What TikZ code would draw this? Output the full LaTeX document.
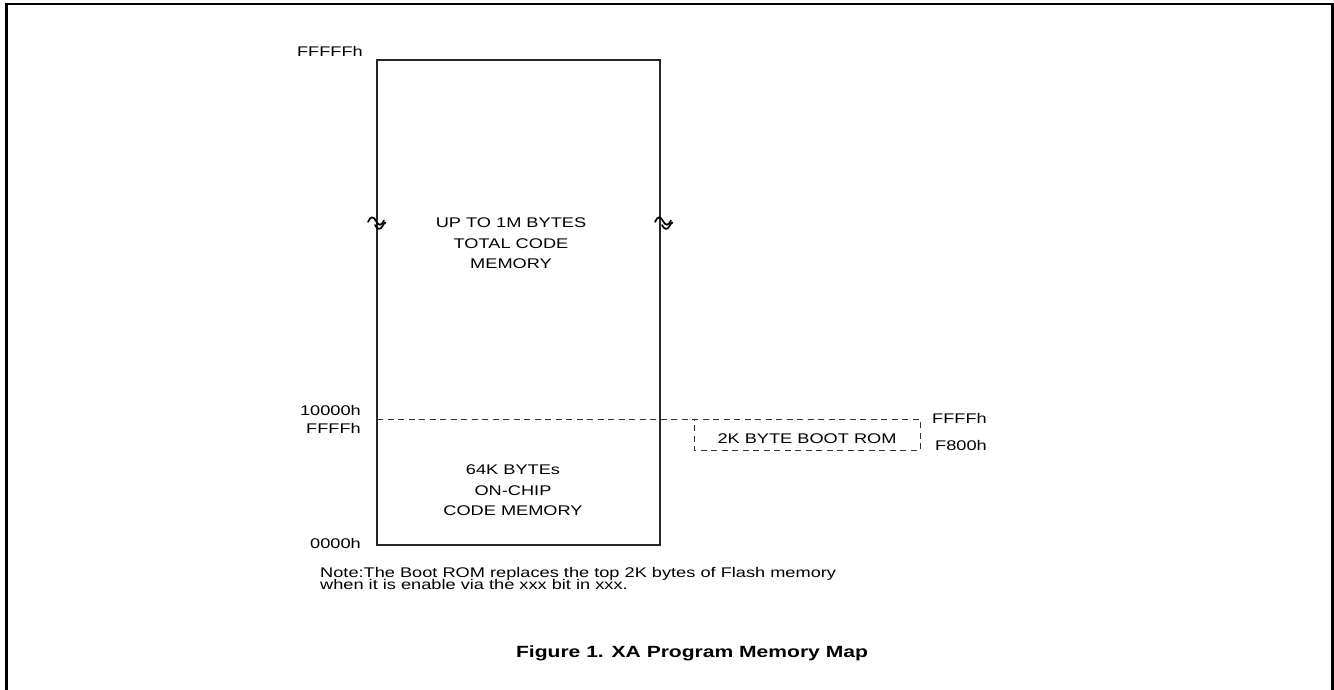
\documentclass[tikz,border=0pt]{standalone}
\usepackage{fontspec}
\setmainfont{Liberation Sans}[FakeStretch=1.3]
\begin{document}
\begin{tikzpicture}[x=1pt,y=-1pt,
  lbl/.style={inner sep=0pt,font=\fontsize{14}{14}\selectfont},
  ttl/.style={inner sep=0pt,font=\fontsize{16.2}{16}\selectfont\bfseries},
  frameline/.style={line width=2.4pt,black},
  memline/.style={line width=1.3pt,black!85},
  dashline/.style={line width=0.9pt,black!80,dash pattern=on 6pt off 4.5pt},
  squig/.style={line width=1.7pt,black,line cap=round}]
\useasboundingbox (0,0) rectangle (1334,690);
% frame
\coordinate (fbl) at (6.3,690);
\coordinate (ftl) at (6.3,4.3);
\coordinate (ftr) at (1332.3,4.3);
\coordinate (fbr) at (1332.3,690);
\draw[frameline] (fbl) -- (ftl) -- (ftr) -- (fbr);
% memory rectangle
\coordinate (mtl) at (377,60);
\coordinate (mbr) at (660,545);
\draw[memline] (mtl) rectangle (mbr);
% dashed boundary and boot ROM box
\coordinate (dl) at (377,419);
\coordinate (btr) at (920,419);
\coordinate (bbr) at (920,450);
\coordinate (bbl) at (694,450);
\coordinate (btl) at (694,419);
\draw[dashline] (dl) -- (btr) -- (bbr) -- (bbl) -- (btl);
% squiggles
\draw[squig] (368,222) .. controls (370.5,216) and (373.5,216) .. (376,221) .. controls (378.5,226) and (381.5,226) .. (384,220.5);
\draw[squig] (375,225) .. controls (377.5,230) and (380.5,230) .. (382.5,226) .. controls (383.5,224) and (384.5,223) .. (385.5,222.5);
\draw[squig] (655,222) .. controls (657.5,216) and (660.5,216) .. (663,221) .. controls (665.5,226) and (668.5,226) .. (671,220.5);
\draw[squig] (662,225) .. controls (664.5,230) and (667.5,230) .. (669.5,226) .. controls (670.5,224) and (671.5,223) .. (672.5,222.5);
% address labels
\node[lbl,anchor=base east] (aFFFFF) at (363,57) {FFFFFh};
\node[lbl,anchor=base east] (a10000) at (361,415) {10000h};
\node[lbl,anchor=base east] (aFFFF) at (361,433) {FFFFh};
\node[lbl,anchor=base east] (a0000) at (361,548) {0000h};
\node[lbl,anchor=base west] (bFFFF) at (932,423) {FFFFh};
\node[lbl,anchor=base west] (bF800) at (935,450) {F800h};
% region texts
\node[lbl,anchor=base] (t1) at (511,227) {UP TO 1M BYTES};
\node[lbl,anchor=base] (t2) at (511,248) {TOTAL CODE};
\node[lbl,anchor=base] (t3) at (511,268) {MEMORY};
\node[lbl,anchor=base] (c1) at (513,474) {64K BYTEs};
\node[lbl,anchor=base] (c2) at (513,495) {ON-CHIP};
\node[lbl,anchor=base] (c3) at (513,515) {CODE MEMORY};
\node[lbl,anchor=base] (boot) at (807,443) {2K BYTE BOOT ROM};
% note and title
\node[lbl,anchor=base west] (n1) at (320,577) {Note:The Boot ROM replaces the top 2K bytes of Flash memory};
\node[lbl,anchor=base west] (n2) at (320,589) {when it is enable via the xxx bit in xxx.};
\node[ttl,anchor=base] (title) at (692,657) {Figure 1. XA Program Memory Map};
\end{tikzpicture}
\end{document}
